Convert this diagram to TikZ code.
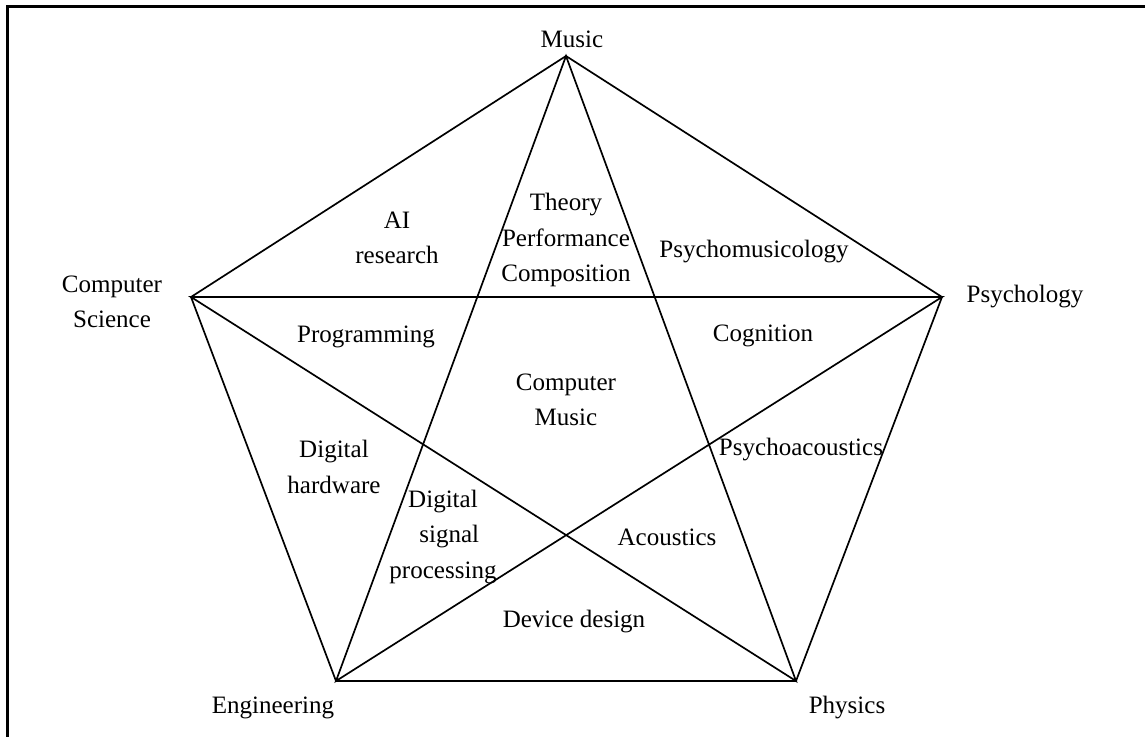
\documentclass[tikz,border=0pt]{standalone}
\usepackage{fontspec}
\setmainfont{Liberation Serif}
\usepackage{tikz}

\begin{document}
\begin{tikzpicture}[x=0.025cm, y=-0.025cm,
        edge/.style={line width=1.2pt, line join=miter},
        lbl/.style={align=center, inner sep=0pt, font=\fontsize{17.8}{25}\selectfont}]
        \useasboundingbox (0,0) rectangle (1145,737);

        % Marc exterior (tallat a dreta i a baix)
        \draw[line width=1.6pt] (7.5,737) -- (7.5,6.5) -- (1145,6.5);

        % Vertexs del pentagon
        \coordinate (mus) at (566,56);
        \coordinate (cs) at (191,297);
        \coordinate (psy) at (942,297);
        \coordinate (eng) at (336,681);
        \coordinate (phy) at (796,681);

        % Pentagon
        \draw[edge] (mus) -- (psy) -- (phy) -- (eng) -- (cs) -- cycle;

        % Estrella interior
        \draw[edge] (mus) -- (eng) -- (psy) -- (cs) -- (phy) -- cycle;

        % Etiquetes dels vertexs
        \node[lbl] (musT) at (572,39) {Music};
        \node[lbl] (csT) at (112,302) {Computer\\Science};
        \node[lbl] (psyT) at (1025,297) {Psychology};
        \node[lbl] (engT) at (273,708) {Engineering};
        \node[lbl] (phyT) at (847,708) {Physics};

        % Etiquetes de les regions
        \node[lbl] (theory) at (566,240) {Theory\\Performance\\Composition};
        \node[lbl] (ai) at (397,238) {AI\\research};
        \node[lbl] (pmus) at (754,252) {Psychomusicology};
        \node[lbl] (prog) at (366,337) {Programming};
        \node[lbl] (cogn) at (763,336) {Cognition};
        \node[lbl] (cmus) at (566,400) {Computer\\Music};
        \node[lbl] (dhw) at (334,467) {Digital\\hardware};
        \node[lbl] (pac) at (801,450) {Psychoacoustics};
        \node[lbl] (dsp) at (443,537) {Digital\\\hspace*{0.5em}signal\\processing};
        \node[lbl] (acou) at (667,537) {Acoustics};
        \node[lbl] (dev) at (574,622) {Device design};

    \end{tikzpicture}
\end{document}
